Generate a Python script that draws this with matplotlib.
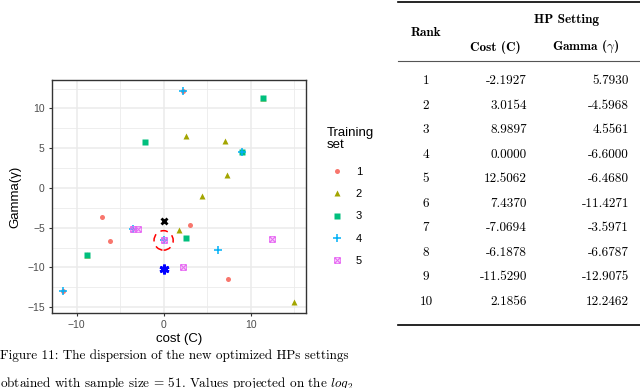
import matplotlib
matplotlib.use("Agg")
import matplotlib.pyplot as plt
from matplotlib.path import Path
from matplotlib.patches import Ellipse
from matplotlib.lines import Line2D

plt.rcParams['mathtext.fontset'] = 'cm'

# scatter data per training set (cost C, gamma)
set1_c = [-7.07, -6.19, 3.02, 7.44, 2.19, -11.53, 8.99]
set1_g = [-3.60, -6.68, -4.60, -11.43, 12.25, -12.91, 4.56]
set2_c = [2.60, 7.00, 7.30, 4.39, 1.76, 15.00, 11.45, -8.78]
set2_g = [6.57, 5.94, 1.67, -1.05, -5.31, -14.40, 11.26, -8.49]
set3_c = [-2.19, 11.45, -8.78, 2.63, 8.99]
set3_g = [5.79, 11.26, -8.49, -6.32, 4.56]
set4_c = [2.19, -11.53, 6.30, 8.99, -3.50, 0.00]
set4_g = [12.25, -12.91, -7.82, 4.56, -5.19, -6.60]
set5_c = [-3.50, -2.98, 0.00, 2.20, 12.51]
set5_g = [-5.19, -5.19, -6.60, -9.96, -6.47]

# highlighted points
best_c, best_g = 0.0, -6.60
cross_c, cross_g = 0.0, -4.14
star_c, star_g = 0.0, -10.20

# table values
ranks = [1, 2, 3, 4, 5, 6, 7, 8, 9, 10]
costs = ["-2.1927", "3.0154", "8.9897", "0.0000", "12.5062", "7.4370",
         "-7.0694", "-6.1878", "-11.5290", "2.1856"]
gammas = ["5.7930", "-4.5968", "4.5561", "-6.6000", "-6.4680", "-11.4271",
          "-3.5971", "-6.6787", "-12.9075", "12.2462"]

colors = ["#F8766D", "#A3A500", "#00BF7D", "#00B0F6", "#E76BF3"]

# square with a cross inside (ggplot shape 7)
sq_x = Path([(-1, -1), (1, -1), (1, 1), (-1, 1), (-1, -1),
             (-1, -1), (1, 1), (-1, 1), (1, -1)],
            [Path.MOVETO, Path.LINETO, Path.LINETO, Path.LINETO, Path.CLOSEPOLY,
             Path.MOVETO, Path.LINETO, Path.MOVETO, Path.LINETO])

W, H = 640, 388
fig = plt.figure(figsize=(6.4, 3.88), dpi=100)
ax = fig.add_axes([51.7 / W, 1 - 313 / H, 254 / W, 233 / H])

def fy(y):
    return 1 - y / H

ax.plot(set1_c, set1_g, 'o', color=colors[0], ms=3.6, mec='none', label='1')
ax.plot(set2_c, set2_g, '^', color=colors[1], ms=4.4, mec='none', label='2')
ax.plot(set3_c, set3_g, 's', color=colors[2], ms=3.8, mec='none', label='3')
ax.plot(set4_c, set4_g, '+', color=colors[3], ms=6, mew=1.1, label='4')
ax.plot(set5_c, set5_g, marker=sq_x, ls='none', color=colors[4], ms=4,
        mfc='none', mew=0.8, label='5')

ax.plot(cross_c, cross_g, 'x', color='black', ms=4.5, mew=2)
ax.plot(star_c, star_g, marker=(6, 2, 0), color='#0000FF', ms=7, mew=2)
ax.add_patch(Ellipse((best_c, best_g), 2.2, 2.45, fill=False, ec='#FF0000',
                     lw=1.1, ls=(0, (5, 3.5))))

ax.set_xlim(-12.86, 16.33)
ax.set_ylim(-15.73, 13.58)
ax.set_xticks([-10, 0, 10])
ax.set_yticks([-15, -10, -5, 0, 5, 10])
ax.set_xticks([-5, 5, 15], minor=True)
ax.set_yticks([-12.5, -7.5, -2.5, 2.5, 7.5, 12.5], minor=True)
ax.set_xticklabels(['\u221210', '0', '10'])
ax.set_yticklabels(['\u221215', '\u221210', '\u22125', '0', '5', '10'])
ax.grid(True, which='major', color='#EBEBEB', lw=1.1)
ax.grid(True, which='minor', color='#EBEBEB', lw=0.6)
ax.set_axisbelow(True)
ax.tick_params(which='major', length=2.5, width=0.8, color='#333333',
               labelsize=7.5, labelcolor='#4D4D4D', pad=2.5)
ax.tick_params(which='minor', length=0)
for s in ax.spines.values():
    s.set_color('#333333')
    s.set_linewidth(1.0)
for t in ax.get_xticklabels() + ax.get_yticklabels():
    t.set_family('Liberation Sans')
ax.set_xlabel('cost (C)', family='Liberation Sans', fontsize=9.5, labelpad=2)
ax.set_ylabel('Gamma(\u03b3)', family='Liberation Sans', fontsize=9.5, labelpad=4)

# legend (title placed separately to get the ggplot gap)
fig.text(327 / W, fy(139), 'Training\nset', ha='left', va='center',
         family='Liberation Sans', fontsize=9.5, linespacing=1.05)
leg = ax.legend(loc='upper left', bbox_to_anchor=(327 / W, fy(167)),
                bbox_transform=fig.transFigure, frameon=False,
                prop={'family': 'Liberation Sans', 'size': 8},
                handlelength=1.8, handletextpad=0.8, labelspacing=1.1,
                borderpad=0, borderaxespad=0)

# table
fig.add_artist(Line2D([398 / W, 1.0], [fy(2), fy(2)], color='black', lw=1.2))
fig.add_artist(Line2D([398 / W, 1.0], [fy(61), fy(61)], color='#555555', lw=0.8))
fig.add_artist(Line2D([398 / W, 1.0], [fy(325), fy(325)], color='black', lw=1.2))

tfont = dict(family='cmr10', fontsize=9.5)
bfont = dict(family='cmb10', fontsize=9.5)
fig.text(567 / W, fy(20), 'HP Setting', ha='center', va='center', **bfont)
fig.text(426 / W, fy(33), 'Rank', ha='center', va='center', **bfont)
fig.text(495 / W, fy(47), 'Cost (C)', ha='center', va='center', **bfont)
fig.text(586 / W, fy(47), r'Gamma ($\gamma$)', ha='center', va='center', **bfont)
for i, (r, c, g) in enumerate(zip(ranks, costs, gammas)):
    y = fy(81 + 24.5 * i)
    fig.text(426 / W, y, str(r), ha='center', va='center', **tfont)
    fig.text(527 / W, y, c, ha='right', va='center', **tfont)
    fig.text(629 / W, y, g, ha='right', va='center', **tfont)

# caption
fig.text(0, fy(356), 'Figure 11: The dispersion of the new optimized HPs settings',
         ha='left', va='center', **tfont)
fig.text(0, fy(383), r'obtained with sample size = 51. Values projected on the $log_2$',
         ha='left', va='center', **tfont)

fig.savefig('out.png', dpi=100)
